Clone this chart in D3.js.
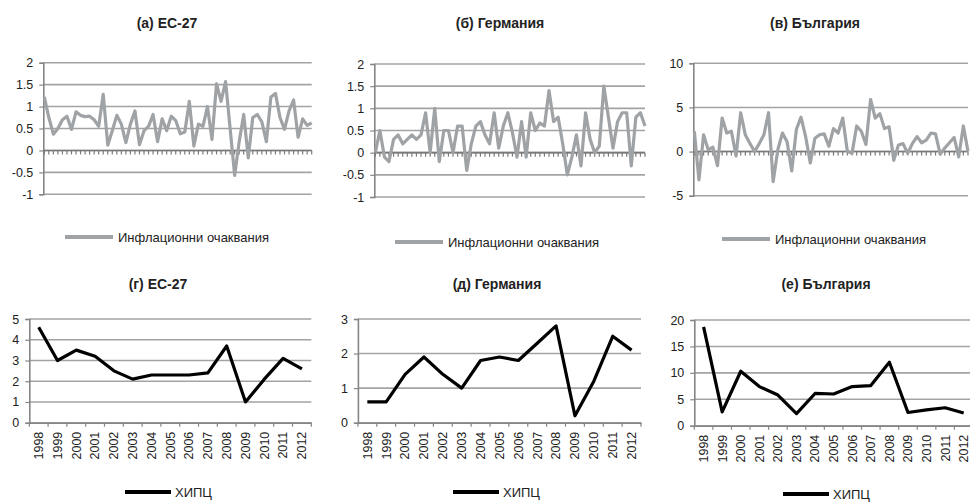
<!DOCTYPE html>
<html>
<head>
<meta charset="utf-8">
<script src="https://cdn.jsdelivr.net/npm/d3@7/dist/d3.min.js"></script>
<style>
  body { margin: 0; background: #fff; }
  text { font-family: "Liberation Sans", Arial, sans-serif; fill: #222; }
</style>
</head>
<body>
<div id="chart"></div>
<script>
// categories
const years = ["1998","1999","2000","2001","2002","2003","2004","2005","2006","2007","2008","2009","2010","2011","2012"];
const quarters = years.flatMap(y => ["Q1","Q2","Q3","Q4"].map(q => y + q));

// inflation expectations, quarterly
const expEU = [1.22,0.75,0.37,0.5,0.7,0.78,0.48,0.88,0.8,0.77,0.78,0.7,0.55,1.28,0.12,0.45,0.8,0.6,0.18,0.6,
  0.9,0.13,0.45,0.55,0.82,0.2,0.72,0.45,0.78,0.68,0.38,0.42,1.12,0.1,0.6,0.55,1.0,0.25,1.52,1.12,
  1.57,0.5,-0.57,0.2,0.82,-0.17,0.75,0.82,0.65,0.2,1.22,1.3,0.75,0.48,0.9,1.15,0.3,0.72,0.57,0.63];
const expDE = [0.0,0.5,-0.1,-0.2,0.3,0.4,0.2,0.3,0.4,0.3,0.4,0.9,0.0,1.0,-0.2,0.5,0.5,0.0,0.6,0.6,
  -0.4,0.2,0.6,0.7,0.4,0.2,0.9,0.1,0.6,0.9,0.45,-0.1,0.7,-0.1,0.9,0.5,0.67,0.6,1.4,0.7,
  0.8,0.2,-0.5,-0.1,0.4,-0.3,0.9,0.3,0.0,0.15,1.5,0.8,0.1,0.7,0.9,0.9,-0.3,0.8,0.9,0.6];
const expBG = [2.3,-3.2,1.9,0.2,0.5,-1.6,3.8,2.1,2.3,-0.5,4.4,1.9,0.9,0.0,0.9,1.9,4.4,-3.4,0.2,2.1,
  1.1,-2.2,2.5,3.9,1.7,-1.3,1.5,1.9,2.0,0.6,2.6,2.1,3.8,0.0,-0.2,2.9,2.3,0.8,5.9,3.8,
  4.3,2.6,2.8,-1.0,0.75,0.9,-0.2,0.9,1.7,1.0,1.3,2.1,2.0,-0.3,0.4,1.0,1.6,-0.6,2.9,0.0];

// HICP, annual
const hicpEU = [4.6,3.0,3.5,3.2,2.5,2.1,2.3,2.3,2.3,2.4,3.7,1.0,2.1,3.1,2.6];
const hicpDE = [0.6,0.6,1.4,1.9,1.4,1.0,1.8,1.9,1.8,2.3,2.8,0.2,1.2,2.5,2.1];
const hicpBG = [18.7,2.6,10.3,7.4,5.8,2.3,6.1,6.0,7.4,7.6,12.0,2.5,3.0,3.4,2.4];

// y tick labels
const ticksEU = [-1,-0.5,0,0.5,1,1.5,2];
const ticksDE = [-1,-0.5,0,0.5,1,1.5,2];
const ticksBG = [-5,0,5,10];
const ticksHEU = [0,1,2,3,4,5];
const ticksHDE = [0,1,2,3];
const ticksHBG = [0,5,10,15,20];

const titles = ["(а) ЕС-27","(б) Германия","(в) България","(г) ЕС-27","(д) Германия","(е) България"];
const legExp = "Инфлационни очаквания";
const legHicp = "ХИПЦ";

const gridColor = "#a3a3a3", axisColor = "#868686";

const svg = d3.select("#chart").append("svg")
  .attr("width", 970).attr("height", 502);

function yAxis(g, y, ticks, x0, x1) {
  // gridlines
  g.selectAll(".grid").data(ticks).join("line")
    .attr("x1", x0).attr("x2", x1)
    .attr("y1", d => y(d)).attr("y2", d => y(d))
    .attr("stroke", gridColor).attr("stroke-width", 1.6);
  const ax = g.append("g").attr("transform", "translate(" + x0 + ",0)")
    .call(d3.axisLeft(y).tickValues(ticks).tickSize(4).tickPadding(6).tickFormat(d => String(d)));
  ax.select(".domain").attr("stroke", axisColor).attr("stroke-width", 1.6);
  ax.selectAll(".tick line").attr("stroke", axisColor).attr("stroke-width", 1.2);
  ax.selectAll(".tick text").style("font-size", "12.5px").attr("fill", "#222");
}

function topPanel(p) {
  const g = svg.append("g");
  const x = d3.scalePoint().domain(quarters).range([p.x0 + 1, p.x1]);
  const y = d3.scaleLinear().domain(p.domain).range([p.yb, p.yt]);
  yAxis(g, y, p.ticks, p.x0, p.x1);

  // zero axis with a tick for every quarter
  g.append("line").attr("x1", p.x0).attr("x2", p.x1)
    .attr("y1", y(0)).attr("y2", y(0))
    .attr("stroke", "#7a7a7a").attr("stroke-width", 1.6);
  g.selectAll(".qt").data(quarters).join("line")
    .attr("x1", d => x(d)).attr("x2", d => x(d))
    .attr("y1", y(0)).attr("y2", y(0) + 4)
    .attr("stroke", "#7a7a7a").attr("stroke-width", 1.2);

  g.append("path").datum(p.values)
    .attr("fill", "none").attr("stroke", "#a0a3a6").attr("stroke-width", 3.2)
    .attr("stroke-linejoin", "round")
    .attr("d", d3.line().x((d, i) => x(quarters[i])).y(d => y(d)));

  svg.append("text").attr("x", p.tx).attr("y", p.ty).attr("text-anchor", "middle")
    .style("font-size", "14px").style("font-weight", "bold").text(p.title);

  g.append("line").attr("x1", p.lx).attr("x2", p.lx + 48)
    .attr("y1", p.ly).attr("y2", p.ly)
    .attr("stroke", "#a0a3a6").attr("stroke-width", 4);
  g.append("text").attr("x", p.lx + 53).attr("y", p.ly + 4.5)
    .style("font-size", "13px").text(legExp);
}

function bottomPanel(p) {
  const g = svg.append("g");
  const x = d3.scaleBand().domain(years).range([p.x0, p.x1]);
  const y = d3.scaleLinear().domain(p.domain).range([p.yb, p.yt]);
  yAxis(g, y, p.ticks, p.x0, p.x1);

  const xa = g.append("g").attr("transform", "translate(0," + y(0) + ")")
    .call(d3.axisBottom(x).tickSize(0).tickPadding(9));
  xa.select(".domain").attr("stroke", axisColor).attr("stroke-width", 1.6);
  xa.selectAll(".tick text")
    .style("font-size", "12.5px").attr("fill", "#222")
    .attr("text-anchor", "end")
    .attr("transform", "rotate(-90)")
    .attr("x", -9).attr("y", 0).attr("dy", "0.35em");
  // ticks at category boundaries
  const bounds = years.map(d => x(d)).concat([x(years[years.length - 1]) + x.step()]);
  g.selectAll(".bt").data(bounds).join("line")
    .attr("x1", d => d).attr("x2", d => d)
    .attr("y1", y(0)).attr("y2", y(0) + 4)
    .attr("stroke", axisColor).attr("stroke-width", 1.2);

  g.append("path").datum(p.values)
    .attr("fill", "none").attr("stroke", "#000").attr("stroke-width", 3.2)
    .attr("stroke-linejoin", "round")
    .attr("d", d3.line().x((d, i) => x(years[i]) + x.bandwidth() / 2).y(d => y(d)));

  svg.append("text").attr("x", p.tx).attr("y", p.ty).attr("text-anchor", "middle")
    .style("font-size", "14px").style("font-weight", "bold").text(p.title);

  g.append("line").attr("x1", p.lx).attr("x2", p.lx + 46)
    .attr("y1", p.ly).attr("y2", p.ly)
    .attr("stroke", "#000").attr("stroke-width", 4);
  g.append("text").attr("x", p.lx + 50).attr("y", p.ly + 4.5)
    .style("font-size", "13px").text(legHicp);
}

topPanel({x0: 43.3, x1: 311.7, yt: 62.7, yb: 194.3, domain: [-1, 2], ticks: ticksEU, values: expEU,
  title: titles[0], tx: 167, ty: 28, lx: 65, ly: 237});
topPanel({x0: 374.3, x1: 645, yt: 64, yb: 197, domain: [-1, 2], ticks: ticksDE, values: expDE,
  title: titles[1], tx: 500, ty: 28, lx: 395, ly: 242});
topPanel({x0: 693.3, x1: 968, yt: 63.3, yb: 195.7, domain: [-5, 10], ticks: ticksBG, values: expBG,
  title: titles[2], tx: 815, ty: 28, lx: 722, ly: 239});

bottomPanel({x0: 29.3, x1: 311.3, yt: 319, yb: 422.7, domain: [0, 5], ticks: ticksHEU, values: hicpEU,
  title: titles[3], tx: 158, ty: 289, lx: 125, ly: 492});
bottomPanel({x0: 357.9, x1: 641, yt: 319, yb: 422.7, domain: [0, 3], ticks: ticksHDE, values: hicpDE,
  title: titles[4], tx: 497, ty: 289, lx: 453, ly: 492});
bottomPanel({x0: 694.3, x1: 973, yt: 320, yb: 425.7, domain: [0, 20], ticks: ticksHBG, values: hicpBG,
  title: titles[5], tx: 826, ty: 289, lx: 783, ly: 494});
</script>
</body>
</html>
